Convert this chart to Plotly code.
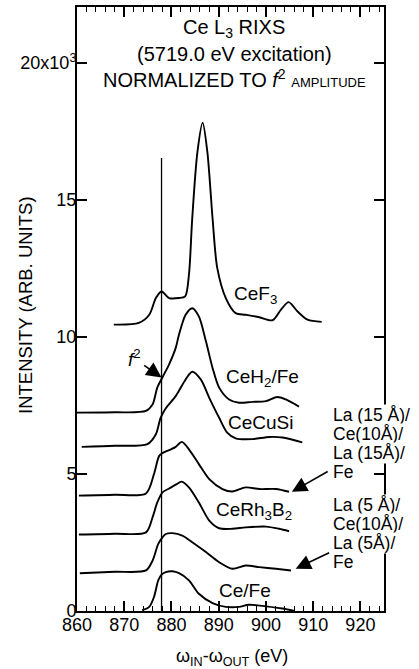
import plotly.graph_objects as go

# ---------------- data (intensity in units of 10^3) ----------------
cef3_x = [867.8, 873.1, 875.3, 876.7, 877.9, 879.5, 881.6, 882.9, 883.7, 884.4, 885.5, 886.6,
          887.6, 888.7, 889.7, 891.5, 893.6, 895.7, 898.6, 901.4, 903.2, 904.8, 906.7, 908.8, 911.8]
cef3_y = [10.45, 10.51, 10.81, 11.42, 11.66, 11.42, 11.42, 11.48, 12.27, 14.33, 16.75, 17.82,
          16.75, 14.33, 12.51, 11.42, 10.87, 10.81, 10.72, 10.61, 11.0, 11.27, 10.93, 10.63, 10.55]

ceh2_x = [859.9, 868.0, 874.6, 876.0, 877.0, 878.1, 879.5, 880.9, 881.6, 883.0, 884.4, 885.8,
          887.3, 888.7, 890.1, 892.2, 894.3, 897.1, 900.0, 902.4, 904.2, 907.0]
ceh2_y = [7.24, 7.25, 7.30, 7.54, 8.15, 8.53, 9.0, 9.6, 10.09, 10.81, 11.05, 10.75,
          9.84, 8.87, 8.15, 7.72, 7.60, 7.63, 7.66, 7.81, 7.72, 7.46]

cecusi_x = [861.0, 868.0, 874.9, 876.7, 877.7, 878.8, 880.9, 883.0, 884.4, 886.2, 888.0, 890.1,
            891.8, 893.6, 897.1, 900.7, 903.5, 907.7]
cecusi_y = [5.99, 6.03, 6.09, 6.45, 7.05, 7.40, 7.84, 8.45, 8.73, 8.45, 7.78, 7.05,
            6.51, 6.30, 6.27, 6.35, 6.33, 6.15]

la15_x = [860.4, 868.0, 874.6, 876.3, 877.4, 878.1, 879.9, 880.9, 882.2, 883.7, 885.8, 888.0,
          890.8, 892.9, 895.7, 898.6, 902.1, 904.9]
la15_y = [4.21, 4.24, 4.29, 5.0, 5.66, 5.76, 5.90, 5.99, 6.17, 5.90, 5.36, 4.81,
          4.45, 4.36, 4.51, 4.45, 4.45, 4.35]

cerh_x = [860.4, 868.0, 874.6, 876.0, 877.0, 878.1, 879.5, 880.9, 882.2, 883.7, 885.8, 888.0,
          890.1, 892.9, 895.7, 900.0, 902.8, 904.9]
cerh_y = [2.79, 2.82, 2.87, 3.42, 3.96, 4.33, 4.47, 4.61, 4.72, 4.51, 3.96, 3.30,
          3.02, 3.0, 3.05, 3.08, 3.0, 2.91]

la5_x = [860.6, 868.0, 874.6, 876.0, 877.2, 878.1, 878.8, 880.2, 882.3, 884.4, 887.3, 890.1,
         892.9, 895.7, 898.6, 902.1, 905.3]
la5_y = [1.38, 1.43, 1.48, 1.84, 2.45, 2.69, 2.81, 2.84, 2.75, 2.51, 2.15, 1.78,
         1.54, 1.66, 1.60, 1.54, 1.48]

cefe_x = [873.8, 875.3, 876.3, 877.2, 877.9, 878.8, 880.2, 881.6, 883.7, 885.8, 888.7, 891.5,
          894.3, 896.4, 900.0, 903.5, 906.0]
cefe_y = [0.03, 0.15, 0.51, 1.12, 1.33, 1.42, 1.45, 1.38, 1.12, 0.63, 0.29, 0.15,
          0.15, 0.23, 0.17, 0.09, 0.0]

f2_energy = 877.9
f2_line_top = 16.53

x_tick_vals = [860, 870, 880, 890, 900, 910, 920]
y_tick_vals = [0, 5, 10, 15, 20]
y_tick_text = ["0", "5", "10", "15", "20x10<sup>3</sup>"]

series = [
    (cef3_x, cef3_y), (ceh2_x, ceh2_y), (cecusi_x, cecusi_y), (la15_x, la15_y),
    (cerh_x, cerh_y), (la5_x, la5_y), (cefe_x, cefe_y),
]

FONT = "Liberation Sans, Arial, Helvetica, sans-serif"

fig = go.Figure()
for xs, ys in series:
    fig.add_trace(go.Scatter(x=xs, y=ys, mode="lines",
                             line=dict(color="black", width=1.9, shape="spline", smoothing=0.8),
                             showlegend=False, hoverinfo="skip"))

fig.add_trace(go.Scatter(x=[f2_energy, f2_energy], y=[0, f2_line_top], mode="lines",
                         line=dict(color="black", width=1.3), showlegend=False, hoverinfo="skip"))

L, R, T, B = 77, 35, 5, 58
W, H = 419, 669
pw, ph = W - L - R, H - T - B


def px2paper(px, py):
    return (px - L) / pw, (H - B - py) / ph


annotations = []
# title lines
for py, txt in [(27, "Ce L<sub>3</sub> RIXS"),
                (52, "(5719.0 eV excitation)"),
                (77, "NORMALIZED TO <i>f</i><sup>2</sup> <span style='font-size:13px'>AMPLITUDE</span>")]:
    x, y = px2paper(234, py)
    annotations.append(dict(x=x, y=y, xref="paper", yref="paper", text=txt, showarrow=False,
                            xanchor="center", yanchor="middle", font=dict(size=20)))

# curve labels
for xv, yv, txt in [(897.8, 11.54, "CeF<sub>3</sub>"),
                    (899.3, 8.51, "CeH<sub>2</sub>/Fe"),
                    (898.9, 6.87, "CeCuSi"),
                    (897.5, 3.66, "CeRh<sub>3</sub>B<sub>2</sub>"),
                    (895.6, 0.73, "Ce/Fe")]:
    annotations.append(dict(x=xv, y=yv, xref="x", yref="y", text=txt, showarrow=False,
                            xanchor="center", yanchor="middle", font=dict(size=19)))

# right-side multilayer labels
right_lines = [(414.5, "La (15 Å)/"), (433.5, "Ce(10Å)/"), (452.5, "La (15Å)/"), (471.5, "Fe"),
               (504.5, "La (5 Å)/"), (523.5, "Ce(10Å)/"), (542.5, "La (5Å)/"), (561.5, "Fe")]
for py, txt in right_lines:
    x, y = px2paper(332, py)
    annotations.append(dict(x=x, y=y, xref="paper", yref="paper", text=txt, showarrow=False,
                            xanchor="left", yanchor="middle", font=dict(size=17.5),
                            bgcolor="white", borderpad=0))

# arrows
for tip, tail in [((905.5, 4.35), (913.4, 5.12)), ((906.3, 1.54), (913.7, 2.15)),
                  ((877.9, 8.52), (873.9, 9.0))]:
    annotations.append(dict(x=tip[0], y=tip[1], ax=tail[0], ay=tail[1], xref="x", yref="y",
                            axref="x", ayref="y", text="", showarrow=True, arrowhead=2,
                            arrowsize=1.9, arrowwidth=1.6, arrowcolor="black"))

annotations.append(dict(x=872.2, y=9.25, xref="x", yref="y", text="<i>f</i><sup>2</sup>",
                        showarrow=False, font=dict(size=19)))

# axis titles
x, y = px2paper(232, 658)
annotations.append(dict(x=x, y=y, xref="paper", yref="paper",
                        text="ω<sub>IN</sub>-ω<sub>OUT</sub> (eV)", showarrow=False,
                        xanchor="center", yanchor="middle", font=dict(size=18)))
x, y = px2paper(25, 304)
annotations.append(dict(x=x, y=y, xref="paper", yref="paper", text="INTENSITY (ARB. UNITS)",
                        showarrow=False, textangle=-90, xanchor="center", yanchor="middle",
                        font=dict(size=18.5)))

fig.update_layout(
    width=W, height=H,
    margin=dict(l=L, r=R, t=T, b=B, pad=0),
    paper_bgcolor="white", plot_bgcolor="white",
    font=dict(family=FONT, size=18, color="black"),
    annotations=annotations,
    xaxis=dict(range=[860, 925], tickvals=x_tick_vals, ticks="inside", ticklen=10,
               tickwidth=1.5, tickcolor="black", showline=True, linecolor="black", linewidth=2,
               mirror="allticks", showgrid=False, zeroline=False, ticklabelstandoff=-4,
               minor=dict(dtick=2, tick0=860, ticks="inside", ticklen=5, tickwidth=1.2,
                          tickcolor="black", showgrid=False),
               tickfont=dict(size=18)),
    yaxis=dict(range=[0, 22.04], tickvals=y_tick_vals, ticktext=y_tick_text, ticks="inside",
               ticklen=10, tickwidth=1.5, tickcolor="black", showline=True, linecolor="black",
               linewidth=2, mirror="allticks", showgrid=False, zeroline=False,
               ticklabelstandoff=-5, tickfont=dict(size=18)),
)

fig.write_html("out.html")
